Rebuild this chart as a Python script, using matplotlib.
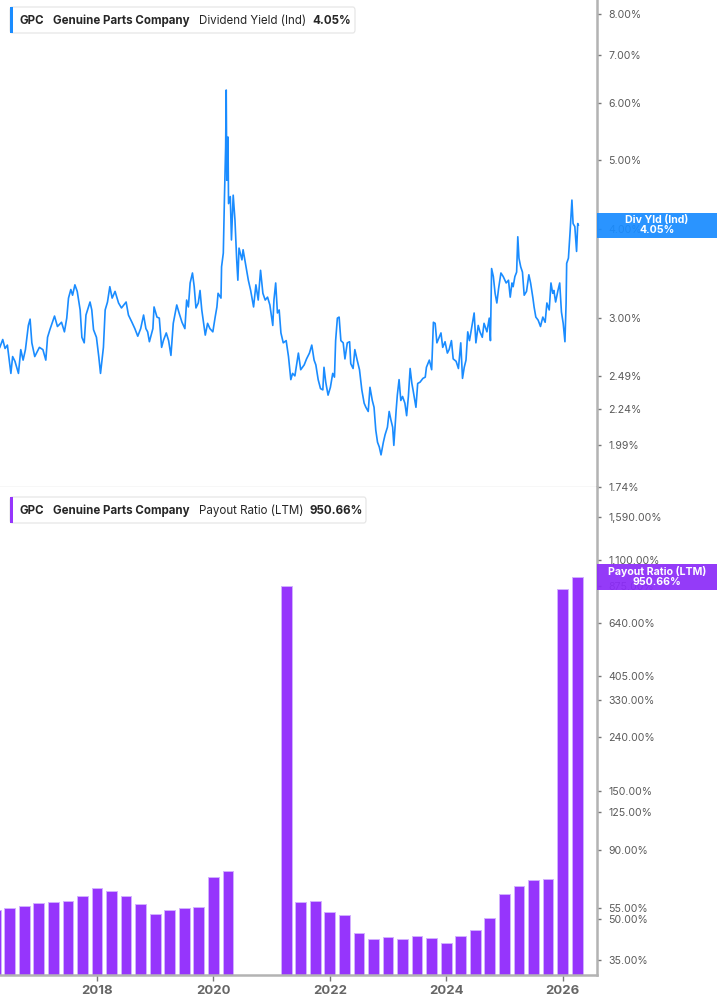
import numpy as np
import matplotlib.pyplot as plt
from matplotlib.patches import Rectangle, FancyBboxPatch
from matplotlib.ticker import FixedLocator, FixedFormatter, NullLocator

plt.rcParams['font.family'] = ['Inter', 'DejaVu Sans']

W, H = 717, 1005

# -------------------
# DATA
# -------------------
# dividend yield (ind), % -- decimal years
yield_years = [
    2016.33, 2016.38, 2016.42, 2016.46, 2016.52, 2016.55, 2016.59, 2016.65, 2016.69, 2016.73,
    2016.77, 2016.82, 2016.85, 2016.88, 2016.93, 2017.01, 2017.07, 2017.12, 2017.15, 2017.19,
    2017.27, 2017.32, 2017.39, 2017.44, 2017.48, 2017.51, 2017.55, 2017.58, 2017.62, 2017.66,
    2017.71, 2017.74, 2017.78, 2017.81, 2017.88, 2017.91, 2017.94, 2017.99, 2018.03, 2018.06,
    2018.11, 2018.14, 2018.18, 2018.22, 2018.26, 2018.31, 2018.37, 2018.42, 2018.50, 2018.54,
    2018.60, 2018.65, 2018.70, 2018.75, 2018.80, 2018.84, 2018.87, 2018.90, 2018.96, 2018.98,
    2019.03, 2019.07, 2019.11, 2019.14, 2019.19, 2019.23, 2019.27, 2019.31, 2019.37, 2019.41,
    2019.46, 2019.51, 2019.54, 2019.57, 2019.60, 2019.64, 2019.67, 2019.70, 2019.74, 2019.77,
    2019.80, 2019.83, 2019.86, 2019.90, 2019.94, 2019.99, 2020.03, 2020.06, 2020.08, 2020.13,
    2020.14, 2020.17, 2020.19, 2020.21, 2020.22, 2020.23, 2020.25, 2020.26, 2020.29, 2020.31,
    2020.34, 2020.37, 2020.40, 2020.42, 2020.44, 2020.49, 2020.51, 2020.56, 2020.60, 2020.64,
    2020.69, 2020.73, 2020.77, 2020.81, 2020.85, 2020.89, 2020.93, 2020.97, 2021.02, 2021.04,
    2021.07, 2021.10, 2021.13, 2021.16, 2021.20, 2021.25, 2021.29, 2021.33, 2021.36, 2021.40,
    2021.46, 2021.50, 2021.56, 2021.60, 2021.65, 2021.69, 2021.73, 2021.76, 2021.80, 2021.84,
    2021.88, 2021.90, 2021.93, 2021.97, 2022.01, 2022.05, 2022.08, 2022.10, 2022.13, 2022.16,
    2022.19, 2022.23, 2022.26, 2022.30, 2022.34, 2022.36, 2022.40, 2022.43, 2022.47, 2022.51,
    2022.55, 2022.59, 2022.62, 2022.66, 2022.69, 2022.73, 2022.76, 2022.79, 2022.82, 2022.85,
    2022.88, 2022.92, 2022.95, 2022.99, 2023.02, 2023.05, 2023.08, 2023.10, 2023.14, 2023.16,
    2023.19, 2023.22, 2023.25, 2023.29, 2023.32, 2023.35, 2023.38, 2023.41, 2023.43, 2023.48,
    2023.51, 2023.55, 2023.60, 2023.64, 2023.66, 2023.71, 2023.75, 2023.78, 2023.81, 2023.84,
    2023.88, 2023.91, 2023.94, 2023.98, 2024.02, 2024.05, 2024.09, 2024.12, 2024.17, 2024.21,
    2024.25, 2024.28, 2024.31, 2024.34, 2024.37, 2024.40, 2024.44, 2024.48, 2024.51, 2024.55,
    2024.58, 2024.62, 2024.65, 2024.70, 2024.74, 2024.76, 2024.78, 2024.81, 2024.84, 2024.87,
    2024.90, 2024.94, 2024.98, 2025.03, 2025.07, 2025.10, 2025.13, 2025.15, 2025.18, 2025.21,
    2025.23, 2025.25, 2025.28, 2025.31, 2025.34, 2025.38, 2025.42, 2025.45, 2025.49, 2025.51,
    2025.54, 2025.58, 2025.62, 2025.66, 2025.70, 2025.73, 2025.77, 2025.80, 2025.83, 2025.85,
    2025.88, 2025.92, 2025.95, 2025.98, 2026.01, 2026.04, 2026.06, 2026.07, 2026.10, 2026.13,
    2026.16, 2026.18, 2026.21, 2026.24, 2026.26, 2026.27,
]
yield_values = [
    2.73, 2.80, 2.72, 2.75, 2.51, 2.65, 2.61, 2.51, 2.71, 2.62,
    2.71, 2.93, 2.99, 2.77, 2.65, 2.73, 2.71, 2.62, 2.82, 2.89,
    3.02, 2.92, 2.96, 2.87, 3.00, 3.20, 3.29, 3.23, 3.34, 3.27,
    3.08, 2.82, 2.77, 3.03, 3.16, 3.08, 2.89, 2.82, 2.65, 2.51,
    2.73, 3.08, 3.16, 3.32, 3.20, 3.27, 3.15, 3.10, 3.16, 3.03,
    2.96, 2.90, 2.83, 2.90, 3.03, 2.90, 2.87, 2.78, 2.90, 3.11,
    3.01, 3.00, 2.73, 2.79, 2.86, 2.79, 2.66, 2.95, 3.13, 3.05,
    2.96, 2.90, 3.18, 3.11, 3.36, 3.47, 3.32, 3.10, 3.15, 3.28,
    3.08, 2.96, 2.84, 2.95, 2.90, 2.87, 3.01, 3.11, 3.25, 3.20,
    3.54, 3.70, 4.44, 5.21, 6.26, 4.68, 5.38, 4.34, 4.44, 3.86,
    4.46, 4.12, 3.62, 3.39, 3.76, 3.62, 3.74, 3.54, 3.39, 3.28,
    3.11, 3.34, 3.18, 3.50, 3.25, 3.18, 3.21, 3.13, 2.93, 3.18,
    3.36, 3.05, 3.08, 2.86, 2.77, 2.79, 2.65, 2.46, 2.51, 2.49,
    2.68, 2.54, 2.58, 2.63, 2.68, 2.75, 2.62, 2.58, 2.46, 2.39,
    2.38, 2.56, 2.44, 2.34, 2.40, 2.51, 2.48, 2.79, 3.00, 3.01,
    2.79, 2.77, 2.63, 2.77, 2.78, 2.59, 2.55, 2.71, 2.62, 2.54,
    2.38, 2.28, 2.25, 2.22, 2.40, 2.30, 2.25, 2.09, 2.01, 1.98,
    1.93, 2.01, 2.06, 2.11, 2.22, 2.16, 2.11, 1.99, 2.23, 2.34,
    2.46, 2.30, 2.33, 2.28, 2.19, 2.33, 2.55, 2.43, 2.38, 2.25,
    2.43, 2.44, 2.47, 2.48, 2.56, 2.62, 2.54, 2.96, 2.95, 2.77,
    2.82, 2.86, 2.73, 2.78, 2.68, 2.71, 2.79, 2.63, 2.61, 2.55,
    2.77, 2.47, 2.56, 2.62, 2.87, 2.79, 2.92, 3.05, 2.77, 2.93,
    2.87, 2.82, 2.95, 2.87, 3.00, 2.79, 3.52, 3.43, 3.25, 3.15,
    3.30, 3.47, 3.43, 3.36, 3.39, 3.21, 3.36, 3.32, 3.43, 3.48,
    3.90, 3.64, 3.54, 3.48, 3.23, 3.27, 3.45, 3.36, 3.20, 3.11,
    3.01, 2.98, 2.92, 3.01, 2.96, 3.15, 3.08, 3.36, 3.25, 3.28,
    3.16, 3.28, 3.36, 3.06, 2.95, 2.78, 3.15, 3.58, 3.64, 3.98,
    4.39, 4.07, 4.03, 3.72, 4.07, 4.05,
]

# payout ratio (LTM), % -- quarterly, NaN = not reported
payout_years = [
    2016.25, 2016.50, 2016.75, 2017.00, 2017.25, 2017.50, 2017.75, 2018.00, 2018.25, 2018.50,
    2018.75, 2019.00, 2019.25, 2019.50, 2019.75, 2020.00, 2020.25, 2020.50, 2020.75, 2021.00,
    2021.25, 2021.50, 2021.75, 2022.00, 2022.25, 2022.50, 2022.75, 2023.00, 2023.25, 2023.50,
    2023.75, 2024.00, 2024.25, 2024.50, 2024.75, 2025.00, 2025.25, 2025.50, 2025.75, 2026.00,
    2026.25,
]
payout_values = [
    53.0, 53.9, 54.7, 56.3, 56.8, 57.1, 59.6, 64.1, 62.6, 60.0,
    55.8, 51.2, 53.0, 53.9, 54.2, 70.4, 74.2, np.nan, np.nan, np.nan,
    880.0, 56.7, 57.0, 51.7, 50.4, 43.0, 40.9, 41.8, 40.8, 42.0,
    41.3, 39.6, 42.0, 44.2, 49.4, 61.0, 65.0, 68.8, 69.2, 854.0,
    950.66,
]

yield_ticks = [1.74, 1.99, 2.24, 2.49, 3.0, 4.0, 5.0, 6.0, 7.0, 8.0]
payout_ticks = [35, 50, 55, 90, 125, 150, 240, 330, 405, 640, 875, 1100, 1590]
year_ticks = [2018, 2020, 2022, 2024, 2026]

last_yield = 4.05
last_payout = 950.66

BLUE = '#1a8cff'
PURPLE = '#9635fc'
TAG_PURPLE = '#8c2cf8'
SPINE = '#b3b3b3'
TICKTXT = '#5a5a5a'


# -------------------
# FIGURE
# -------------------
fig = plt.figure(figsize=(W / 100, H / 100), dpi=100)
ax1 = fig.add_axes([0, 518 / H, 597 / W, 487 / H])
ax2 = fig.add_axes([0, 30 / H, 597 / W, 488 / H])

xmin, xmax = 2016.333, 2026.591

for ax in (ax1, ax2):
    ax.set_xlim(xmin, xmax)
    ax.set_yscale('log')
    ax.yaxis.tick_right()
    ax.spines['left'].set_visible(False)
    ax.spines['top'].set_visible(False)
    ax.spines['right'].set_color(SPINE)
    ax.spines['right'].set_linewidth(1.8)
    ax.tick_params(axis='y', which='major', length=3, width=1, color='#777777',
                   labelsize=7.6, labelcolor=TICKTXT, pad=5)
    ax.yaxis.set_minor_locator(NullLocator())

# top: dividend yield line
ax1.plot(yield_years, yield_values, color=BLUE, lw=1.2)
ax1.set_ylim(1.74, 8.37)
ax1.yaxis.set_major_locator(FixedLocator(yield_ticks))
ax1.yaxis.set_major_formatter(FixedFormatter([f'{t:.2f}%' for t in yield_ticks]))
ax1.spines['bottom'].set_color('#d9d9d9')
ax1.spines['bottom'].set_linewidth(1)
ax1.tick_params(axis='x', bottom=False, labelbottom=False)

# bottom: payout ratio bars
ax2.set_ylim(30.75, 2062)
ax2.bar(payout_years, payout_values, width=0.185, bottom=1, color=PURPLE,
        edgecolor='#d2b0ff', linewidth=0.7)
ax2.yaxis.set_major_locator(FixedLocator(payout_ticks))
ax2.yaxis.set_major_formatter(FixedFormatter([f'{t:,.2f}%' for t in payout_ticks]))
ax2.spines['bottom'].set_color(SPINE)
ax2.spines['bottom'].set_linewidth(1.8)
ax2.set_xticks(year_ticks)
ax2.set_xticklabels([str(y) for y in year_ticks])
ax2.tick_params(axis='x', length=4, width=1, color='#777777', labelsize=9.5,
                labelcolor='#666666', pad=3)
for lbl in ax2.get_xticklabels():
    lbl.set_fontweight('bold')


# -------------------
# LEGEND BOXES
# -------------------
def fx(x):
    return x / W


def fy(y):
    return 1 - y / H


def legend_box(y0, width, color, metric, value, value_x):
    fig.patches.append(FancyBboxPatch((fx(10), fy(y0 + 26)), width / W, 26 / H,
                                      boxstyle='round,pad=0,rounding_size=0.003',
                                      transform=fig.transFigure, fc='white',
                                      ec='#e4e4e4', lw=0.8, zorder=5))
    fig.patches.append(Rectangle((fx(10), fy(y0 + 26)), 3 / W, 26 / H,
                                 transform=fig.transFigure, fc=color, ec='none', zorder=6))
    yc = fy(y0 + 13.5)
    kw = dict(fontsize=8.3, color='#262626', va='center', ha='left', zorder=7)
    fig.text(fx(20), yc, 'GPC', fontweight='bold', **kw)
    fig.text(fx(53), yc, 'Genuine Parts Company', fontweight='bold', **kw)
    fig.text(fx(199), yc, metric, **kw)
    fig.text(fx(value_x), yc, value, fontweight='bold', **kw)


legend_box(7, 345, BLUE, 'Dividend Yield (Ind)', f'{last_yield:.2f}%', 312)
legend_box(497, 356, PURPLE, 'Payout Ratio (LTM)', f'{last_payout:.2f}%', 309)


# -------------------
# LAST VALUE TAGS
# -------------------
def value_tag(ax, value, color, label, half=12.5):
    yd = ax.transData.transform((xmin, value))[1]
    y_px = H - yd
    fig.patches.append(Rectangle((fx(597), fy(y_px + half)), 120 / W, 2 * half / H,
                                 transform=fig.transFigure, fc=color, ec='none',
                                 alpha=0.93, zorder=8))
    fig.text(fx(657), fy(y_px), f'{label}\n{value:.2f}%', color='white',
             fontsize=7.6, fontweight='bold', ha='center', va='center',
             linespacing=1.0, zorder=9)


value_tag(ax1, last_yield, BLUE, 'Div Yld (Ind)')
value_tag(ax2, last_payout, TAG_PURPLE, 'Payout Ratio (LTM)', half=13)

fig.savefig('out.png', dpi=100)
